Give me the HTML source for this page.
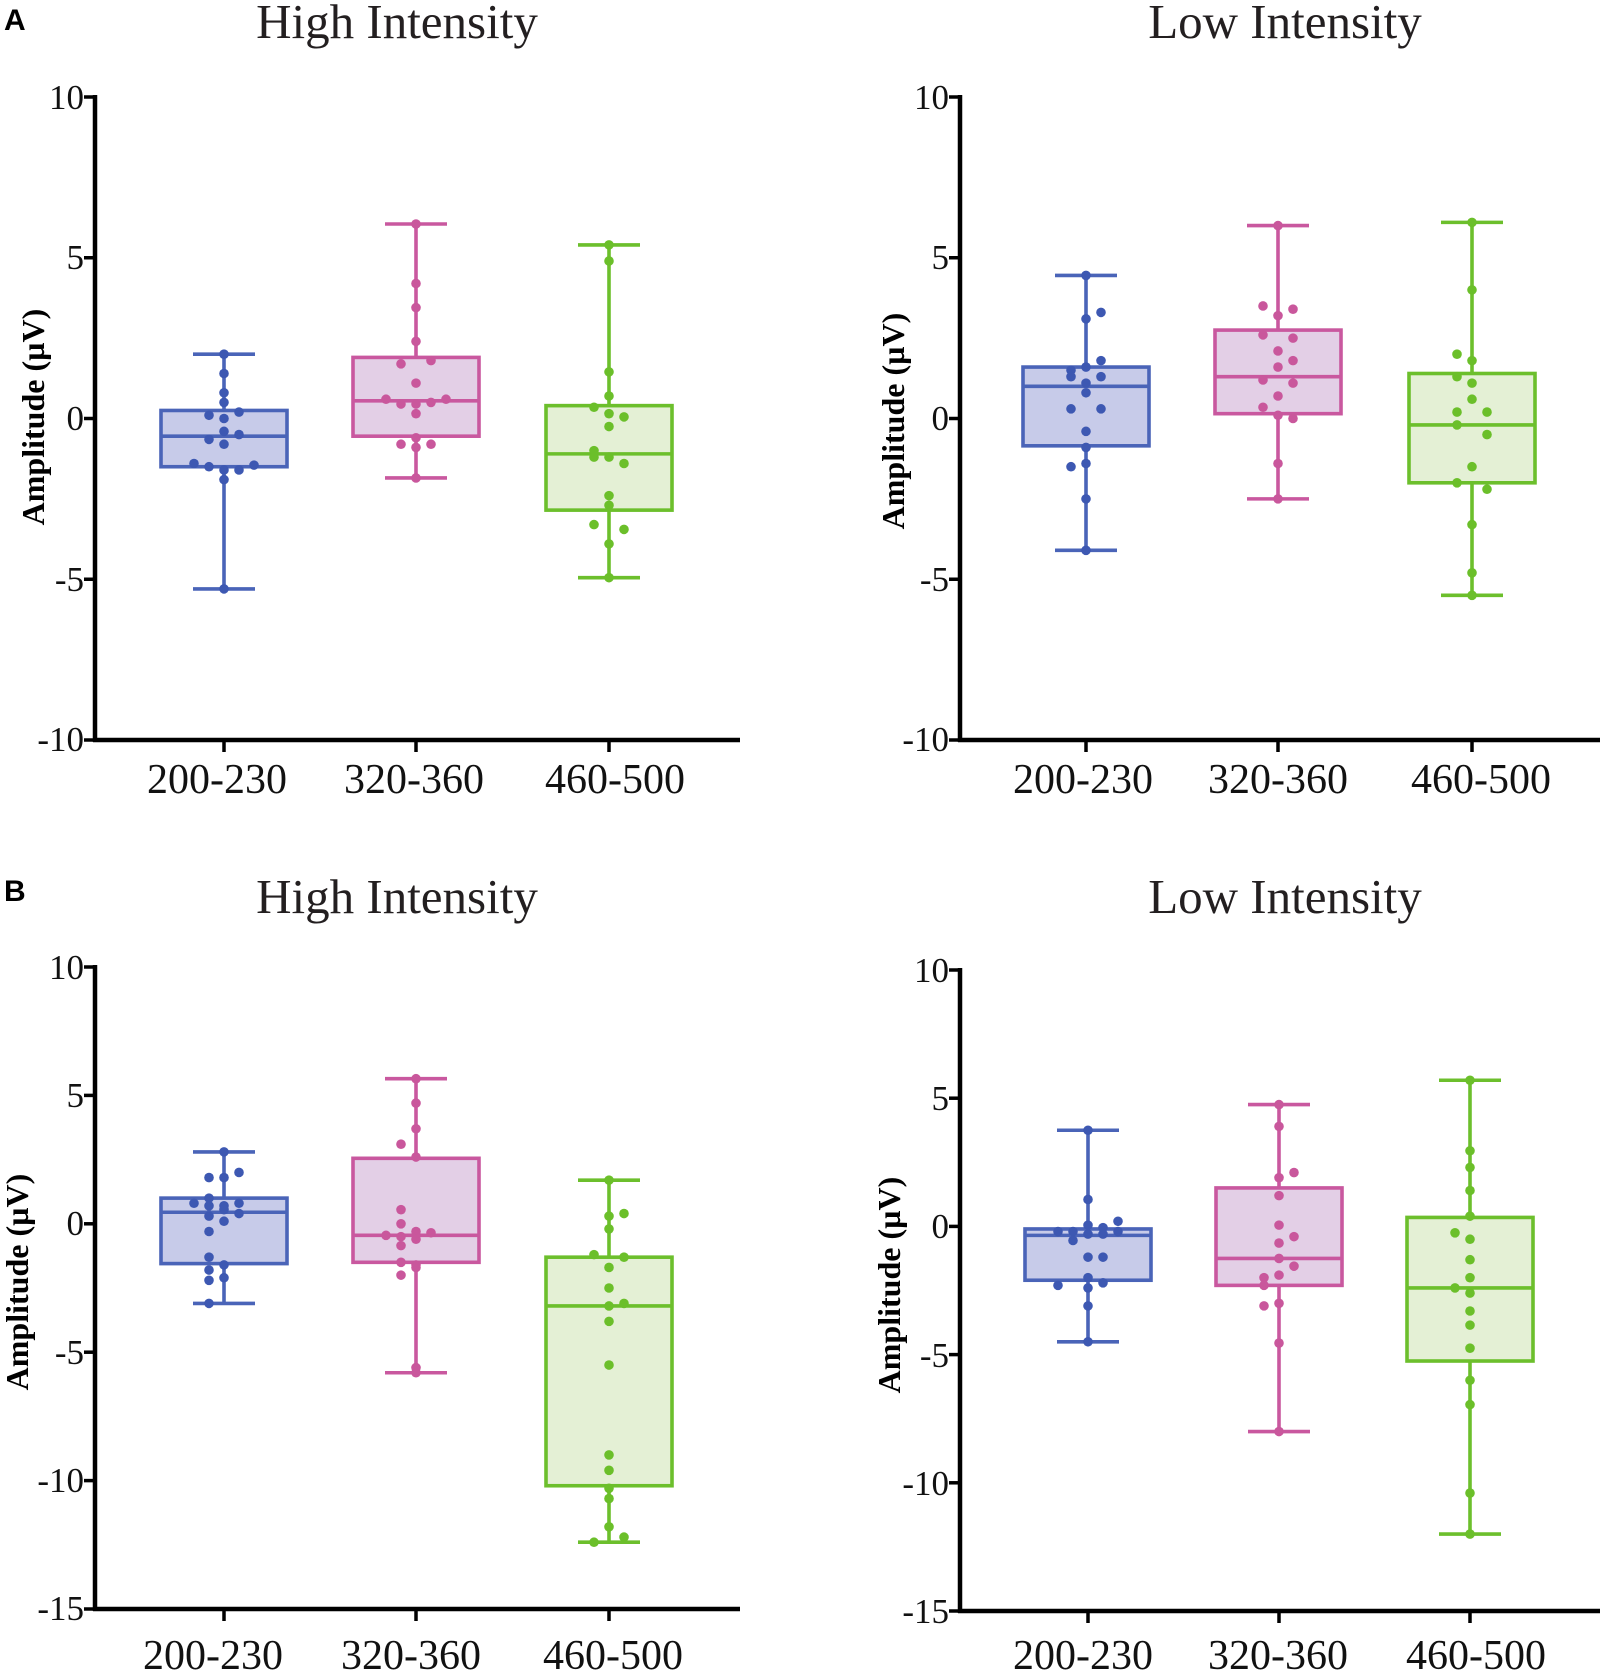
<!DOCTYPE html>
<html><head><meta charset="utf-8"><style>
html,body{margin:0;padding:0;background:#fff;}
svg{display:block;}
.t{font-family:"Liberation Serif",serif;fill:#231f20;}
.yl{font-family:"Liberation Serif",serif;font-weight:bold;font-size:32px;fill:#000;}
.tk{font-family:"Liberation Serif",serif;font-size:35px;fill:#111;}
.xt{font-family:"Liberation Serif",serif;font-size:42px;fill:#111;}
.pl{font-family:"Liberation Sans",sans-serif;font-weight:bold;font-size:30px;fill:#000;}
</style></head><body>
<svg id="s" width="1605" height="1671" viewBox="0 0 1605 1671" xmlns="http://www.w3.org/2000/svg">
<text class="pl" x="4" y="30">A</text>
<text class="pl" x="4" y="901">B</text>
<text class="t" x="397" y="38" font-size="49" text-anchor="middle">High Intensity</text>
<text class="t" x="1285" y="38" font-size="49" text-anchor="middle">Low Intensity</text>
<text class="t" x="397" y="913" font-size="49" text-anchor="middle">High Intensity</text>
<text class="t" x="1285" y="913" font-size="49" text-anchor="middle">Low Intensity</text>
<text class="yl" transform="translate(44,417) rotate(-90)" text-anchor="middle">Amplitude (µV)</text>
<text class="yl" transform="translate(904,421) rotate(-90)" text-anchor="middle">Amplitude (µV)</text>
<text class="yl" transform="translate(28,1282) rotate(-90)" text-anchor="middle">Amplitude (µV)</text>
<text class="yl" transform="translate(900,1285) rotate(-90)" text-anchor="middle">Amplitude (µV)</text>
<g class="tk" text-anchor="end">
<text x="84" y="109">10</text><text x="84" y="269">5</text><text x="84" y="430">0</text><text x="84" y="591">-5</text><text x="84" y="751">-10</text>
<text x="949" y="109">10</text><text x="949" y="269">5</text><text x="949" y="430">0</text><text x="949" y="591">-5</text><text x="949" y="751">-10</text>
<text x="84" y="979">10</text><text x="84" y="1107">5</text><text x="84" y="1235">0</text><text x="84" y="1364">-5</text><text x="84" y="1492">-10</text><text x="84" y="1620">-15</text>
<text x="949" y="982">10</text><text x="949" y="1110">5</text><text x="949" y="1238">0</text><text x="949" y="1367">-5</text><text x="949" y="1495">-10</text><text x="949" y="1623">-15</text>
</g>
<g class="xt" text-anchor="middle">
<text x="217" y="793">200-230</text><text x="414" y="793">320-360</text><text x="615" y="793">460-500</text>
<text x="1083" y="793">200-230</text><text x="1278" y="793">320-360</text><text x="1481" y="793">460-500</text>
<text x="213" y="1669">200-230</text><text x="411" y="1669">320-360</text><text x="613" y="1669">460-500</text>
<text x="1083" y="1669">200-230</text><text x="1278" y="1669">320-360</text><text x="1476" y="1669">460-500</text>
</g>
<g id="g"></g>
</svg>
<script>
var NS="http://www.w3.org/2000/svg",G=document.getElementById('g');
function el(t,a){var e=document.createElementNS(NS,t);for(var k in a)e.setAttribute(k,a[k]);G.appendChild(e);return e;}
var C=[["#4a64b8","#c7cbe9","#3d58b2"],["#c9589f","#e3cfe6","#c9579c"],["#6cbf2c","#e4f0d5","#6bbf2a"]];
var panels=[
{ax:95,x2:740,top:97,bot:740,max:10,min:-10,step:5,cx:[224,416,609],
 b:[[2.0,0.25,-0.55,-1.5,-5.3,[[0,2],[0,1.4],[0,.8],[0,.5],[-1,.1],[0,0],[1,.2],[-1,-.65],[0,-.4],[1,-.5],[0,-.8],[-2,-1.4],[-1,-1.5],[0,-1.6],[1,-1.6],[2,-1.45],[0,-1.9],[0,-5.3]]],
    [6.05,1.9,0.55,-0.55,-1.85,[[0,6.05],[0,4.2],[0,3.45],[0,2.4],[-1,1.7],[1,1.8],[0,1.1],[-2,.6],[2,.6],[-1,.45],[0,.45],[1,.5],[0,.15],[0,-.6],[-1,-.8],[1,-.8],[0,-.9],[0,-1.85]]],
    [5.4,0.4,-1.1,-2.85,-4.95,[[0,5.4],[0,4.9],[0,1.45],[0,.7],[-1,.35],[0,.15],[1,.05],[0,-.25],[-1,-1],[-1,-1.2],[0,-1.2],[1,-1.4],[0,-2.4],[0,-2.7],[-1,-3.3],[1,-3.45],[0,-3.9],[0,-4.95]]]]},
{ax:960,x2:1600,top:97,bot:740,max:10,min:-10,step:5,cx:[1086,1278,1472],
 b:[[4.45,1.6,1.0,-0.85,-4.1,[[0,4.45],[1,3.3],[0,3.1],[1,1.8],[-1,1.5],[0,1.6],[-1,1.3],[1,1.3],[0,1.1],[0,.8],[-1,.3],[1,.3],[0,-.4],[0,-.9],[0,-1.4],[-1,-1.5],[0,-2.5],[0,-4.1]]],
    [6.0,2.75,1.3,0.15,-2.5,[[0,6],[-1,3.5],[1,3.4],[0,3.2],[-1,2.6],[1,2.5],[0,2.1],[1,1.8],[0,1.6],[-1,1.2],[1,1.1],[0,.7],[-1,.35],[0,.1],[1,0],[0,-1.4],[0,-2.5]]],
    [6.1,1.4,-0.2,-2.0,-5.5,[[0,6.1],[0,4],[-1,2],[0,1.8],[-1,1.3],[0,1.1],[0,.6],[-1,.2],[1,.2],[-1,-.2],[1,-.5],[0,-1.5],[-1,-2],[1,-2.2],[0,-3.3],[0,-4.8],[0,-5.5]]]]},
{ax:95,x2:740,top:967,bot:1609,max:10,min:-15,step:5,cx:[224,416,609],
 b:[[2.8,1.0,0.45,-1.55,-3.1,[[0,2.8],[-1,1.8],[0,1.8],[1,2.0],[-2,.8],[-1,1.0],[0,.7],[-1,.7],[0,.55],[1,.8],[1,.4],[-1,.3],[0,.1],[-1,-.3],[-1,-1.3],[0,-1.6],[-1,-1.8],[-1,-2.2],[0,-2.1],[-1,-3.1]]],
    [5.65,2.55,-0.45,-1.5,-5.8,[[0,5.65],[0,4.7],[0,3.7],[-1,3.1],[0,2.6],[-1,.55],[-1,0],[-2,-.45],[-1,-.5],[0,-.3],[1,-.35],[0,-.6],[-1,-.85],[-1,-1.5],[0,-1.6],[0,-1.7],[-1,-2.0],[0,-5.6],[0,-5.8]]],
    [1.7,-1.3,-3.2,-10.2,-12.4,[[0,1.7],[0,.3],[1,.4],[0,-.2],[-1,-1.2],[1,-1.3],[0,-1.7],[0,-2.5],[0,-3.2],[1,-3.1],[0,-3.8],[0,-5.5],[0,-9],[0,-9.6],[0,-10.3],[0,-10.7],[0,-11.8],[1,-12.2],[-1,-12.4]]]]},
{ax:960,x2:1600,top:970,bot:1611,max:10,min:-15,step:5,cx:[1088,1279,1470],
 b:[[3.75,-0.1,-0.35,-2.1,-4.5,[[0,3.75],[0,1.05],[2,.2],[0,.05],[1,-.05],[-2,-.2],[-1,-.2],[0,-.3],[1,-.3],[2,-.2],[-1,-.55],[0,-1.2],[1,-1.2],[0,-2.0],[1,-2.2],[-2,-2.3],[0,-2.4],[0,-3.1],[0,-4.5]]],
    [4.75,1.5,-1.25,-2.3,-8.0,[[0,4.75],[0,3.9],[1,2.1],[0,1.9],[0,1.2],[0,.05],[1,-.4],[0,-.65],[0,-1.25],[1,-1.55],[0,-1.9],[-1,-2.0],[-1,-2.3],[0,-3.0],[-1,-3.1],[0,-4.55],[0,-8]]],
    [5.7,0.35,-2.4,-5.25,-12.0,[[0,5.7],[0,2.95],[0,2.3],[0,1.4],[0,.4],[-1,-.25],[0,-.5],[0,-1.3],[0,-2.0],[-1,-2.4],[0,-2.6],[0,-3.3],[0,-3.85],[0,-4.75],[0,-6.0],[0,-6.95],[0,-10.4],[0,-12]]]]}
];
panels.forEach(function(p){
 var Y=function(v){return p.top+(p.max-v)/(p.max-p.min)*(p.bot-p.top);};
 p.b.forEach(function(b,i){
  var cx=p.cx[i],c=C[i],hw=63,cw=31,sw=3.6;
  el('line',{x1:cx,x2:cx,y1:Y(b[0]),y2:Y(b[4]),stroke:c[0],'stroke-width':sw});
  el('line',{x1:cx-cw,x2:cx+cw,y1:Y(b[0]),y2:Y(b[0]),stroke:c[0],'stroke-width':sw});
  el('line',{x1:cx-cw,x2:cx+cw,y1:Y(b[4]),y2:Y(b[4]),stroke:c[0],'stroke-width':sw});
  el('rect',{x:cx-hw,y:Y(b[1]),width:2*hw,height:Y(b[3])-Y(b[1]),fill:c[1],stroke:c[0],'stroke-width':sw});
  el('line',{x1:cx-hw,x2:cx+hw,y1:Y(b[2]),y2:Y(b[2]),stroke:c[0],'stroke-width':sw});
  b[5].forEach(function(d){el('circle',{cx:cx+d[0]*15,cy:Y(d[1]),r:4.8,fill:c[2]});});
 });
 el('line',{x1:p.ax,x2:p.ax,y1:p.top-2,y2:p.bot+2,stroke:'#000','stroke-width':4.5});
 el('line',{x1:p.ax-2,x2:p.x2,y1:p.bot,y2:p.bot,stroke:'#000','stroke-width':4.5});
 for(var v=p.min;v<=p.max;v+=p.step)el('line',{x1:p.ax-11,x2:p.ax,y1:Y(v),y2:Y(v),stroke:'#000','stroke-width':3.5});
 p.cx.forEach(function(x){el('line',{x1:x,x2:x,y1:p.bot,y2:p.bot+12,stroke:'#000','stroke-width':3.5});});
});
</script>
</body></html>
